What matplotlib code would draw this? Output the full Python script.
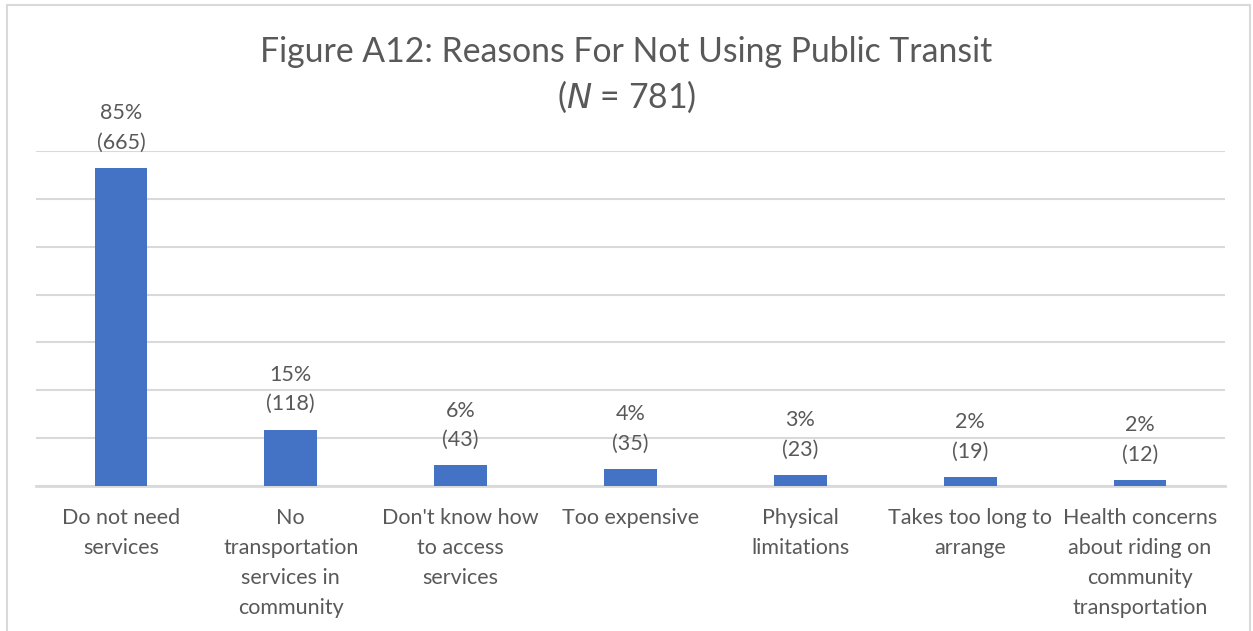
import matplotlib.pyplot as plt

# data
categories = [
    "Do not need\nservices",
    "No\ntransportation\nservices in\ncommunity",
    "Don't know how\nto access\nservices",
    "Too expensive",
    "Physical\nlimitations",
    "Takes too long to\narrange",
    "Health concerns\nabout riding on\ncommunity\ntransportation",
]
counts = [665, 118, 43, 35, 23, 19, 12]
percents = ["85%", "15%", "6%", "4%", "3%", "2%", "2%"]

text_color = "#595959"
bar_color = "#4472C4"
grid_color = "#D9D9D9"

plt.rcParams['font.family'] = ['Lato', 'DejaVu Sans']

fig = plt.figure(figsize=(12.53, 6.31), dpi=100)
ax = fig.add_axes([0.0287, 0.2298, 0.949, 0.5309])

x = range(len(categories))
bars = ax.bar(x, counts, width=0.31, color=bar_color, zorder=3)

for b, pct, n in zip(bars, percents, counts):
    ax.annotate(f"{pct}\n({n})", (b.get_x() + b.get_width() / 2, b.get_height()),
                xytext=(0, 11), textcoords="offset points", ha="center", va="bottom",
                fontsize=15.5, color=text_color, linespacing=1.6)

ax.set_ylim(0, 700)
ax.set_xlim(-0.5, len(categories) - 0.5)
ax.set_yticks(range(0, 701, 100))
ax.yaxis.grid(True, color=grid_color, linewidth=1.5, zorder=0)
ax.tick_params(axis="y", left=False, labelleft=False)
ax.tick_params(axis="x", length=0, pad=16)
ax.set_xticks(list(x))
ax.set_xticklabels(categories, fontsize=15.5, color=text_color, linespacing=1.62)
for s in ["top", "right", "left"]:
    ax.spines[s].set_visible(False)
ax.spines["bottom"].set_color(grid_color)
ax.spines["bottom"].set_linewidth(2)

fig.text(0.5, 0.918, "Figure A12: Reasons For Not Using Public Transit",
         ha="center", va="center", fontsize=24.3, color=text_color)
fig.text(0.5, 0.846, r"($\it{N}$ = 781)", ha="center", va="center",
         fontsize=24.3, color=text_color)

# light frame around the chart area
frame = plt.Rectangle((7 / 1253, -0.01), 1243 / 1253, 1 - 5 / 631 + 0.01,
                      transform=fig.transFigure, fill=False,
                      edgecolor=grid_color, linewidth=1.5)
fig.patches.append(frame)

fig.savefig("out.png", dpi=100)
